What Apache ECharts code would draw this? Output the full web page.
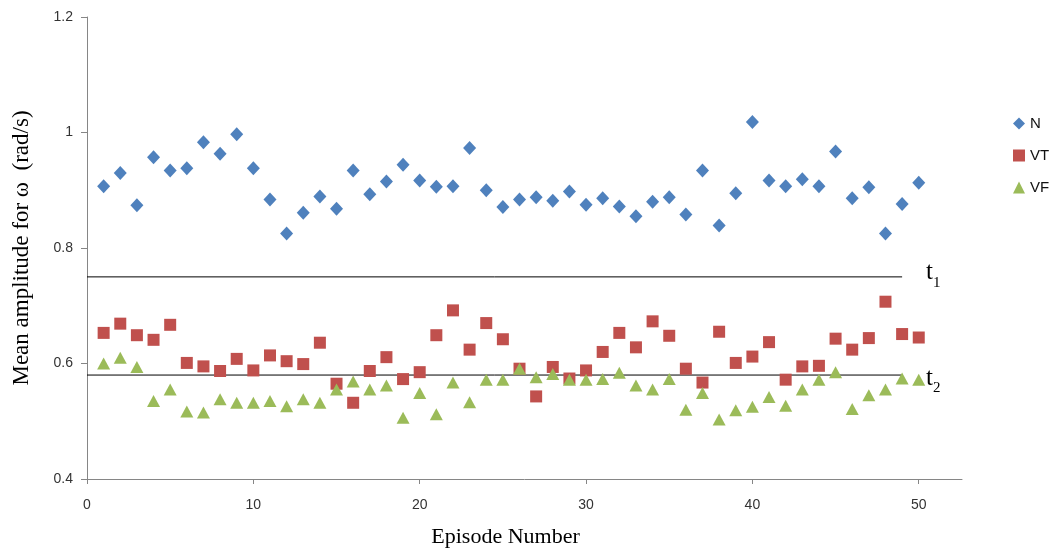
<!DOCTYPE html>
<html>
<head>
<meta charset="utf-8">
<script src="https://cdn.jsdelivr.net/npm/echarts@6/dist/echarts.min.js"></script>
<style>
  html, body { margin: 0; padding: 0; background: #fff; }
  #chart { width: 1050px; height: 553px; }
</style>
</head>
<body>
<div id="chart"></div>
<script>
const episodes = Array.from({ length: 50 }, (_, i) => i + 1);

const nValues = [
  0.907, 0.930, 0.874, 0.957, 0.934, 0.938, 0.983, 0.963, 0.997, 0.938,
  0.884, 0.825, 0.861, 0.889, 0.868, 0.934, 0.893, 0.915, 0.944, 0.917,
  0.906, 0.907, 0.973, 0.900, 0.871, 0.884, 0.888, 0.882, 0.898, 0.875,
  0.886, 0.872, 0.855, 0.880, 0.888, 0.858, 0.934, 0.839, 0.895, 1.018,
  0.917, 0.907, 0.919, 0.907, 0.967, 0.886, 0.905, 0.825, 0.876, 0.913
];

const vtValues = [
  0.653, 0.669, 0.649, 0.641, 0.667, 0.601, 0.595, 0.587, 0.608, 0.588,
  0.614, 0.604, 0.599, 0.636, 0.565, 0.532, 0.587, 0.611, 0.573, 0.585,
  0.649, 0.692, 0.624, 0.670, 0.642, 0.591, 0.543, 0.594, 0.574, 0.588,
  0.620, 0.653, 0.628, 0.673, 0.648, 0.591, 0.567, 0.655, 0.601, 0.612,
  0.637, 0.572, 0.595, 0.596, 0.643, 0.624, 0.644, 0.707, 0.651, 0.645
];

const vfValues = [
  0.600, 0.610, 0.594, 0.535, 0.555, 0.517, 0.515, 0.538, 0.532, 0.532,
  0.535, 0.526, 0.538, 0.532, 0.555, 0.569, 0.555, 0.562, 0.506, 0.549,
  0.512, 0.567, 0.533, 0.572, 0.572, 0.591, 0.576, 0.582, 0.572, 0.572,
  0.573, 0.584, 0.562, 0.555, 0.573, 0.520, 0.549, 0.503, 0.519, 0.525,
  0.542, 0.527, 0.555, 0.572, 0.585, 0.521, 0.545, 0.555, 0.574, 0.572
];

// threshold lines (start episode, end episode, level)
const t1Line = [[0, 0.75], [49, 0.75]];
const t2Line = [[0, 0.58], [49, 0.58]];

const pair = (vals) => vals.map((v, i) => [episodes[i], v]);

const chart = echarts.init(document.getElementById('chart'));

const thresholdLabel = (sub, offY) => ({
  show: true,
  distance: 24,
  offset: [0, offY],
  formatter: () => '{a|t}{b|' + sub + '}',
  rich: {
    a: { fontFamily: 'Liberation Serif', fontSize: 25, color: '#000' },
    b: { fontFamily: 'Liberation Serif', fontSize: 15, color: '#000', padding: [20, 0, 0, 0] }
  }
});

chart.setOption({
  animation: false,
  grid: { left: 87, right: 88, top: 17, bottom: 73 },
  legend: {
    data: ['N', 'VT', 'VF'],
    orient: 'vertical',
    left: 1008,
    top: 111,
    itemGap: 17,
    itemWidth: 12,
    itemHeight: 12,
    textStyle: { fontFamily: 'Liberation Sans', fontSize: 15, color: '#111' }
  },
  xAxis: {
    type: 'value',
    min: 0,
    max: 52.6,
    interval: 10,
    name: 'Episode Number',
    nameLocation: 'middle',
    nameGap: 47,
    nameTextStyle: { fontFamily: 'Liberation Serif', fontSize: 22, color: '#000', padding: [0, 38, 0, 0] },
    axisLine: { lineStyle: { color: '#868686' } },
    axisTick: { length: 5, lineStyle: { color: '#868686' } },
    axisLabel: {
      fontFamily: 'Liberation Sans', fontSize: 14, color: '#333', margin: 19,
      showMaxLabel: false,
      formatter: (v) => (v % 10 === 0 ? String(v) : '')
    },
    splitLine: { show: false }
  },
  yAxis: {
    type: 'value',
    min: 0.4,
    max: 1.2,
    interval: 0.2,
    name: 'Mean amplitude for ω  (rad/s)',
    nameLocation: 'middle',
    nameGap: 54,
    nameRotate: 90,
    nameTextStyle: { fontFamily: 'Liberation Serif', fontSize: 23, color: '#000' },
    axisLine: { show: true, lineStyle: { color: '#868686' } },
    axisTick: { show: true, length: 6, lineStyle: { color: '#868686' } },
    axisLabel: {
      fontFamily: 'Liberation Sans', fontSize: 14, color: '#333', margin: 14,
      formatter: (v) => String(Math.round(v * 10) / 10)
    },
    splitLine: { show: false }
  },
  series: [
    {
      name: 't1', type: 'line', data: t1Line, symbol: 'none', silent: true,
      lineStyle: { color: '#000', width: 1 }, endLabel: thresholdLabel('1', -4), z: 1
    },
    {
      name: 't2', type: 'line', data: t2Line, symbol: 'none', silent: true,
      lineStyle: { color: '#000', width: 1 }, endLabel: thresholdLabel('2', 3), z: 1
    },
    {
      name: 'N', type: 'scatter', data: pair(nValues), symbol: 'diamond',
      symbolSize: [13, 14], itemStyle: { color: '#4F81BD', opacity: 1 }
    },
    {
      name: 'VT', type: 'scatter', data: pair(vtValues), symbol: 'rect',
      symbolSize: 12, itemStyle: { color: '#C0504D', opacity: 1 }
    },
    {
      name: 'VF', type: 'scatter', data: pair(vfValues), symbol: 'triangle',
      symbolSize: [13, 12], itemStyle: { color: '#9BBB59', opacity: 1 }
    }
  ]
});
</script>
</body>
</html>
